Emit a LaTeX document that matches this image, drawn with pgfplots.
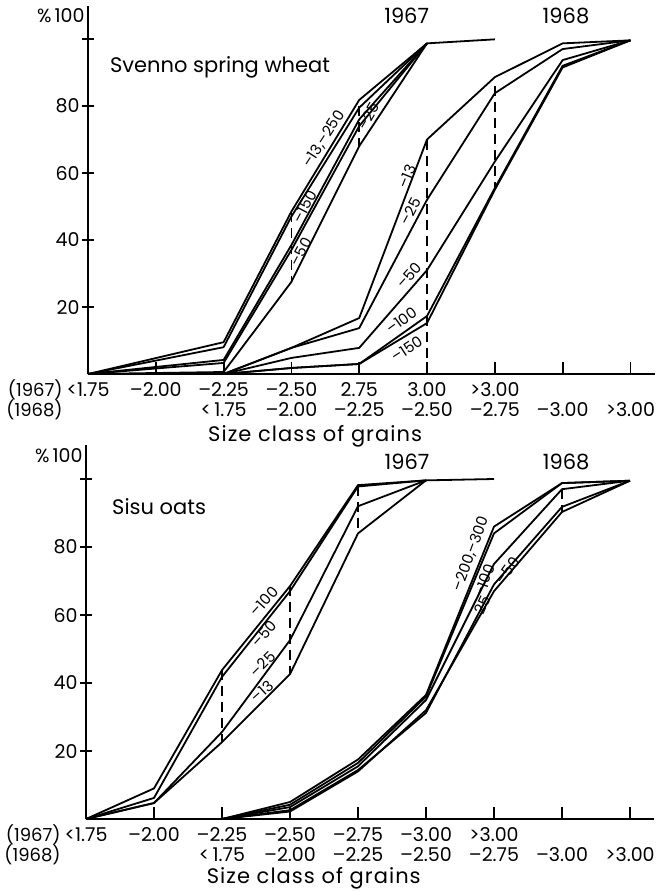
\documentclass[border=0pt]{standalone}
\usepackage{fontspec}
\setmainfont{Poppins}
\usepackage{pgfplots}
\pgfplotsset{compat=1.18}

\newcommand\tl{\fontsize{9.5}{10}\selectfont}
\newcommand\yl{\fontsize{9}{10}\selectfont}
\newcommand\cl{\fontsize{7.5}{8}\selectfont}
\newcommand\bt{\fontsize{10.5}{12}\selectfont}
\newcommand\xl{\fontsize{10.5}{12}\selectfont\addfontfeature{LetterSpace=5}}

% x = size class position 0..8 (1967 classes at 0..6, 1968 classes at 2..8)
\pgfplotsset{
  cumul/.style={
    xmin=0, xmax=8.36, ymin=0, ymax=110,
    axis x line*=bottom, axis y line*=left,
    axis line style={line width=0.9pt, -},
    clip=false,
    xtick align=inside, ytick align=center,
    major tick length=6pt,
    tick style={black, line width=0.9pt},
    ytick={20,40,60,80,100},
    yticklabels={20,40,60,80,{}},
    yticklabel style={font=\tl, anchor=east, inner sep=0pt, xshift=-1pt},
    xtick={0,...,6},
    extra x ticks={2,...,8},
    extra x tick labels={<\,1.75,--2.00,--2.25,--2.50,--2.75,--3.00,>3.00},
    xticklabel style={font=\tl, anchor=base, inner sep=0pt, yshift=-11pt},
    extra x tick style={xticklabel style={yshift=-10pt}},
    /pgf/number format/assume math mode=true,
  },
  cv/.style={black, solid, line width=0.9pt, line join=round, mark=none},
  drop/.style={black, line width=0.9pt, mark=none, dash pattern=on 5pt off 3pt},
}

\begin{document}
\begin{tikzpicture}
\path[use as bounding box] (0,0) rectangle (331pt,-445.5pt);

% ---------------- Svenno spring wheat ----------------
\begin{axis}[cumul, at={(44pt,-187pt)}, anchor=origin, x=33.9pt, y=1.675pt,
  xticklabels={<1.75,--2.00,--2.25,--2.50,2.75,3.00,>3.00}]
% 1967
\addplot[cv] coordinates {(0,0) (2,9.5) (3,48.5) (4,81.8) (5,98.7) (6,99.9)};
\addplot[cv] coordinates {(0,0) (2,8.0) (3,47.0) (4,79.5) (5,98.7)};
\addplot[cv] coordinates {(0,0) (2,4.2) (3,38.5) (4,76.0) (5,98.7)};
\addplot[cv] coordinates {(0,0) (2,3.3) (3,37.0) (4,74.0) (5,98.7)};
\addplot[cv] coordinates {(0,0) (2,0.6) (3,27.5) (4,68.0) (5,98.7)};
% 1968
\addplot[cv] coordinates {(2,0) (3,7.8) (4,16.7) (5,70.0) (6,88.6) (7,98.7) (8,99.6)};
\addplot[cv] coordinates {(2,0) (3,7.8) (4,13.7) (5,52.0) (6,83.8) (7,97.0) (8,99.6)};
\addplot[cv] coordinates {(2,0) (3,4.8) (4,7.8) (5,31.0) (6,63.4) (7,93.7) (8,99.6)};
\addplot[cv] coordinates {(2,0) (3,1.8) (4,3.0) (5,17.3) (6,55.5) (7,92.0) (8,99.6)};
\addplot[cv] coordinates {(2,0) (3,1.8) (4,3.0) (5,15.2) (6,55.0) (7,91.5) (8,99.6)};
% drop lines
\addplot[drop] coordinates {(3,48.5) (3,27.5)};
\addplot[drop] coordinates {(4,80) (4,68)};
\addplot[drop] coordinates {(5,70) (5,0)};
\addplot[drop] coordinates {(6,86) (6,55.5)};

\node[anchor=east, font=\tl, inner sep=0pt] at (axis cs:0,107) [xshift=-1.5pt] {\%\,100};
\node[anchor=west, font=\bt, inner sep=0pt] at (axis cs:0.32,91.6) {Svenno spring wheat};
\node[font=\bt] at (axis cs:4.7,107) {1967};
\node[font=\bt] at (axis cs:7.05,107) {1968};
\node[anchor=base east, font=\yl, inner sep=0pt] at (axis cs:0,0) [xshift=-12.5pt, yshift=-11pt] {(1967)};
\node[anchor=base east, font=\yl, inner sep=0pt] at (axis cs:0,0) [xshift=-12.5pt, yshift=-21pt] {(1968)};
\node[font=\xl] at (axis cs:3.35,0) [yshift=-31pt] {Size class of grains};

\node[font=\cl, rotate=57, inner sep=0pt] at (axis cs:3.48,70) {--13,--250};
\node[font=\cl, rotate=60, inner sep=0pt] at (axis cs:4.14,77) {--25};
\node[font=\cl, rotate=62, inner sep=0pt] at (axis cs:3.2,50) {--150};
\node[font=\cl, rotate=62, inner sep=0pt] at (axis cs:3.14,36.5) {--50};
\node[font=\cl, rotate=68, inner sep=0pt] at (axis cs:4.71,59) {--13};
\node[font=\cl, rotate=62, inner sep=0pt] at (axis cs:4.76,48.5) {--25};
\node[font=\cl, rotate=48, inner sep=0pt] at (axis cs:4.74,29.5) {--50};
\node[font=\cl, rotate=36, inner sep=0pt] at (axis cs:4.62,16) {--100};
\node[font=\cl, rotate=33, inner sep=0pt] at (axis cs:4.7,7.5) {--150};
\end{axis}

% ---------------- Sisu oats ----------------
\begin{axis}[cumul, at={(43pt,-409.5pt)}, anchor=origin, x=34pt, y=1.7pt,
  xticklabels={<1.75,--2.00,--2.25,--2.50,--2.75,--3.00,>3.00}]
% 1967
\addplot[cv] coordinates {(0,0) (1,9.0) (2,43.8) (3,68.5) (4,98.2) (5,99.6) (6,100)};
\addplot[cv] coordinates {(0,0) (1,6.2) (2,41.8) (3,67.0) (4,97.8) (5,99.6)};
\addplot[cv] coordinates {(0,0) (1,4.7) (2,25.6) (3,52.6) (4,92.0) (5,99.6)};
\addplot[cv] coordinates {(0,0) (1,4.7) (2,22.6) (3,42.6) (4,84.0) (5,99.6)};
% 1968
\addplot[cv] coordinates {(2,0) (3,5.0) (4,17.5) (5,36.5) (6,86.0) (7,98.8) (8,99.5)};
\addplot[cv] coordinates {(2,0) (3,4.2) (4,16.5) (5,36.0) (6,84.0) (7,98.8) (8,99.5)};
\addplot[cv] coordinates {(2,0) (3,3.5) (4,15.5) (5,35.0) (6,75.0) (7,97.0) (8,99.5)};
\addplot[cv] coordinates {(2,0) (3,2.6) (4,14.4) (5,31.2) (6,69.0) (7,91.8) (8,99.5)};
\addplot[cv] coordinates {(2,0) (3,2.2) (4,14.0) (5,32.0) (6,67.0) (7,90.3) (8,99.5)};
% drop lines
\addplot[drop] coordinates {(2,43.8) (2,22.6)};
\addplot[drop] coordinates {(3,68.5) (3,42.6)};
\addplot[drop] coordinates {(4,98) (4,84)};
\addplot[drop] coordinates {(7,97) (7,90.3)};

\node[anchor=east, font=\tl, inner sep=0pt] at (axis cs:0,107) [xshift=-1.5pt] {\%\,100};
\node[anchor=west, font=\bt, inner sep=0pt] at (axis cs:0.38,91.8) {Sisu oats};
\node[font=\bt] at (axis cs:4.72,105) {1967};
\node[font=\bt] at (axis cs:7.06,105) {1968};
\node[anchor=base east, font=\yl, inner sep=0pt] at (axis cs:0,0) [xshift=-12.5pt, yshift=-11pt] {(1967)};
\node[anchor=base east, font=\yl, inner sep=0pt] at (axis cs:0,0) [xshift=-12.5pt, yshift=-21pt] {(1968)};
\node[font=\xl] at (axis cs:3.35,0) [yshift=-29.5pt] {Size class of grains};

\node[font=\cl, rotate=48, inner sep=0pt] at (axis cs:2.62,64) {--100};
\node[font=\cl, rotate=48, inner sep=0pt] at (axis cs:2.62,54.5) {--50};
\node[font=\cl, rotate=45, inner sep=0pt] at (axis cs:2.60,45.5) {--25};
\node[font=\cl, rotate=42, inner sep=0pt] at (axis cs:2.59,37.5) {--13};
\node[font=\cl, rotate=70, inner sep=0pt] at (axis cs:5.66,78) {--200,--300};
\node[font=\cl, rotate=70, inner sep=0pt] at (axis cs:5.86,70) {--100};
\node[font=\cl, rotate=65, inner sep=0pt] at (axis cs:5.80,61.5) {--25};
\node[font=\cl, rotate=55, inner sep=0pt] at (axis cs:6.2,73) {--50};
\end{axis}
\end{tikzpicture}
\end{document}
